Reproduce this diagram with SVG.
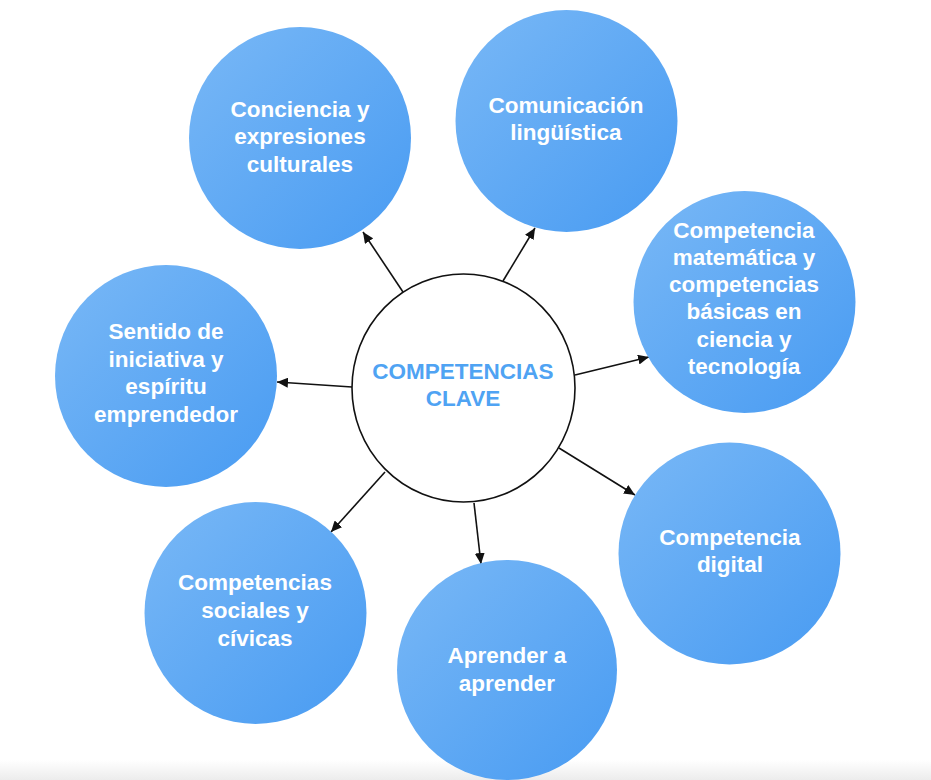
<svg xmlns="http://www.w3.org/2000/svg" width="931" height="780" viewBox="0 0 931 780">
  <defs>
    <linearGradient id="blue" x1="0" y1="0" x2="1" y2="1">
      <stop offset="0" stop-color="#79b8f6"/>
      <stop offset="1" stop-color="#489bf2"/>
    </linearGradient>
    <linearGradient id="strip" x1="0" y1="0" x2="0" y2="1">
      <stop offset="0" stop-color="#ffffff"/>
      <stop offset="1" stop-color="#ececec"/>
    </linearGradient>
    <marker id="arr" markerUnits="userSpaceOnUse" markerWidth="12" markerHeight="10" refX="11" refY="5" orient="auto">
      <path d="M0,0 L11,5 L0,10 z" fill="#111"/>
    </marker>
  </defs>
  <style>
    .node { fill: url(#blue); }
    .lbl { font-family: "Liberation Sans", Arial, sans-serif; font-weight: bold; font-size: 22.5px; fill: #ffffff; text-anchor: middle; }
    .ctr { font-family: "Liberation Sans", Arial, sans-serif; font-weight: bold; font-size: 22.5px; fill: #4fa3f3; text-anchor: middle; }
    .conn line { stroke: #111; stroke-width: 1.6; marker-end: url(#arr); }
  </style>
  <rect x="0" y="0" width="931" height="780" fill="#ffffff"/>
  <rect x="0" y="760" width="931" height="20" fill="url(#strip)"/>

  <g id="connectors" class="conn">
    <line x1="403" y1="292" x2="363" y2="232"/>
    <line x1="503" y1="281" x2="535" y2="228"/>
    <line x1="575" y1="375" x2="649" y2="357"/>
    <line x1="559" y1="448" x2="635" y2="495"/>
    <line x1="474" y1="503" x2="481" y2="564"/>
    <line x1="385" y1="472" x2="331" y2="532"/>
    <line x1="352" y1="387" x2="277" y2="382"/>
  </g>

  <g id="center">
    <ellipse cx="463.5" cy="388" rx="111.5" ry="114" fill="#ffffff" stroke="#111" stroke-width="1.6"/>
    <text class="ctr" x="463" y="379">COMPETENCIAS</text>
    <text class="ctr" x="463" y="406">CLAVE</text>
  </g>

  <g id="n-conciencia">
    <circle class="node" cx="300" cy="138" r="111"/>
    <text class="lbl" x="300" y="117">Conciencia y</text>
    <text class="lbl" x="300" y="144">expresiones</text>
    <text class="lbl" x="300" y="172">culturales</text>
  </g>

  <g id="n-comunicacion">
    <circle class="node" cx="566.5" cy="121" r="111"/>
    <text class="lbl" x="566" y="113">Comunicación</text>
    <text class="lbl" x="566" y="140">lingüística</text>
  </g>

  <g id="n-matematica">
    <circle class="node" cx="744.5" cy="302" r="111"/>
    <text class="lbl" x="744" y="238">Competencia</text>
    <text class="lbl" x="744" y="265">matemática y</text>
    <text class="lbl" x="744" y="292">competencias</text>
    <text class="lbl" x="744" y="319">básicas en</text>
    <text class="lbl" x="744" y="347">ciencia y</text>
    <text class="lbl" x="744" y="374">tecnología</text>
  </g>

  <g id="n-digital">
    <circle class="node" cx="729.5" cy="553.5" r="111"/>
    <text class="lbl" x="730" y="545">Competencia</text>
    <text class="lbl" x="730" y="572">digital</text>
  </g>

  <g id="n-aprender">
    <circle class="node" cx="507" cy="670" r="110"/>
    <text class="lbl" x="507" y="663">Aprender a</text>
    <text class="lbl" x="507" y="691">aprender</text>
  </g>

  <g id="n-sociales">
    <circle class="node" cx="255.5" cy="613" r="111"/>
    <text class="lbl" x="255" y="590">Competencias</text>
    <text class="lbl" x="255" y="618">sociales y</text>
    <text class="lbl" x="255" y="646">cívicas</text>
  </g>

  <g id="n-iniciativa">
    <circle class="node" cx="166" cy="376" r="111"/>
    <text class="lbl" x="166" y="339">Sentido de</text>
    <text class="lbl" x="166" y="367">iniciativa y</text>
    <text class="lbl" x="166" y="394">espíritu</text>
    <text class="lbl" x="166" y="422">emprendedor</text>
  </g>
</svg>
